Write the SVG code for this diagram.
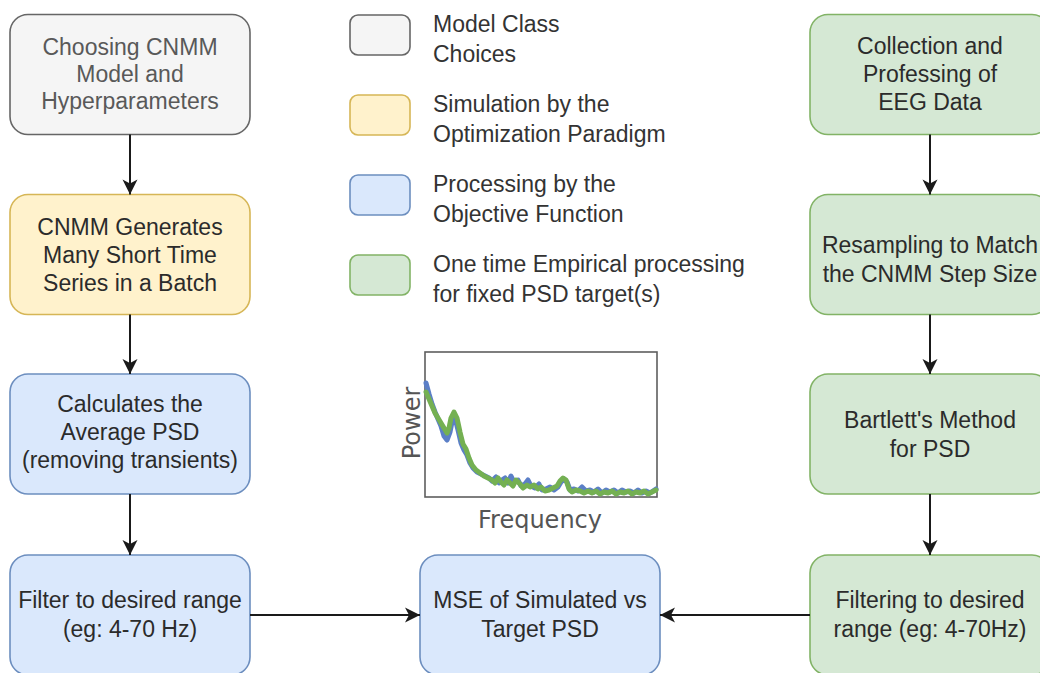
<svg xmlns="http://www.w3.org/2000/svg" width="1040" height="673" viewBox="0 0 1040 673">
  <defs>
    <style>
      .box { stroke-width: 1.6; }
      .gray { fill: #f5f5f5; stroke: #666666; }
      .yellow { fill: #fff2cc; stroke: #d6b656; }
      .blue { fill: #dae8fc; stroke: #6c8ebf; }
      .green { fill: #d5e8d4; stroke: #82b366; }
      .lbl { font-family: "Liberation Sans", Arial, sans-serif; font-size: 23px; fill: #2b2b2b; text-anchor: middle; }
      .lbl.muted { fill: #595959; }
      .legend { font-family: "Liberation Sans", Arial, sans-serif; font-size: 23px; fill: #333333; }
      .axis { font-family: "DejaVu Sans", sans-serif; font-size: 24px; fill: #555555; text-anchor: middle; }
      .edge { fill: none; stroke: #1a1a1a; stroke-width: 2; }
      .trace { fill: none; stroke-width: 5; stroke-linejoin: round; stroke-linecap: round; }
    </style>
    <marker id="arrow" viewBox="-16 -8 17 16" refX="0" refY="0" markerWidth="17" markerHeight="16" markerUnits="userSpaceOnUse" orient="auto">
      <path d="M0,0 L-15,-7.5 L-11,0 L-15,7.5 Z" fill="#1a1a1a"/>
    </marker>
  </defs>

  <rect width="1040" height="673" fill="#ffffff"/>

  <!-- simulation column -->
  <g id="choose-model">
    <rect class="box gray" x="10" y="14.5" width="240" height="120" rx="18"/>
    <text class="lbl muted" x="130" y="55">Choosing CNMM</text>
    <text class="lbl muted" x="130" y="82">Model and</text>
    <text class="lbl muted" x="130" y="109">Hyperparameters</text>
  </g>
  <g id="generate-series">
    <rect class="box yellow" x="10" y="194.5" width="240" height="120" rx="18"/>
    <text class="lbl" x="130" y="235">CNMM Generates</text>
    <text class="lbl" x="130" y="263">Many Short Time</text>
    <text class="lbl" x="130" y="291">Series in a Batch</text>
  </g>
  <g id="average-psd">
    <rect class="box blue" x="10" y="374" width="240" height="120" rx="18"/>
    <text class="lbl" x="130" y="412">Calculates the</text>
    <text class="lbl" x="130" y="440">Average PSD</text>
    <text class="lbl" x="130" y="468">(removing transients)</text>
  </g>
  <g id="filter-sim">
    <rect class="box blue" x="10" y="555" width="240" height="120" rx="18"/>
    <text class="lbl" x="130" y="608">Filter to desired range</text>
    <text class="lbl" x="130" y="637">(eg: 4-70 Hz)</text>
  </g>

  <!-- comparison -->
  <g id="mse">
    <rect class="box blue" x="420" y="555" width="240" height="120" rx="18"/>
    <text class="lbl" x="540" y="608">MSE of Simulated vs</text>
    <text class="lbl" x="540" y="637">Target PSD</text>
  </g>

  <!-- empirical column -->
  <g id="eeg-collection">
    <rect class="box green" x="810" y="14.5" width="240" height="120" rx="18"/>
    <text class="lbl" x="930" y="54">Collection and</text>
    <text class="lbl" x="930" y="82">Professing of</text>
    <text class="lbl" x="930" y="110">EEG Data</text>
  </g>
  <g id="resample">
    <rect class="box green" x="810" y="194.5" width="240" height="120" rx="18"/>
    <text class="lbl" x="930" y="253">Resampling to Match</text>
    <text class="lbl" x="930" y="282">the CNMM Step Size</text>
  </g>
  <g id="bartlett">
    <rect class="box green" x="810" y="374" width="240" height="120" rx="18"/>
    <text class="lbl" x="930" y="428">Bartlett's Method</text>
    <text class="lbl" x="930" y="457">for PSD</text>
  </g>
  <g id="filter-eeg">
    <rect class="box green" x="810" y="555" width="240" height="120" rx="18"/>
    <text class="lbl" x="930" y="608">Filtering to desired</text>
    <text class="lbl" x="930" y="637">range (eg: 4-70Hz)</text>
  </g>

  <!-- legend -->
  <g id="legend">
    <rect class="box gray" x="350" y="15" width="60" height="40" rx="8"/>
    <text class="legend" x="433" y="32">Model Class</text>
    <text class="legend" x="433" y="62">Choices</text>
    <rect class="box yellow" x="350" y="95" width="60" height="40" rx="8"/>
    <text class="legend" x="433" y="112">Simulation by the</text>
    <text class="legend" x="433" y="142">Optimization Paradigm</text>
    <rect class="box blue" x="350" y="175" width="60" height="40" rx="8"/>
    <text class="legend" x="433" y="192">Processing by the</text>
    <text class="legend" x="433" y="222">Objective Function</text>
    <rect class="box green" x="350" y="255" width="60" height="40" rx="8"/>
    <text class="legend" x="433" y="272">One time Empirical processing</text>
    <text class="legend" x="433" y="302">for fixed PSD target(s)</text>
  </g>

  <!-- PSD illustration -->
  <g id="psd-plot">
    <rect x="425" y="352" width="232" height="145" fill="#ffffff" stroke="#5e5e5e" stroke-width="1.6"/>
    <polyline class="trace" stroke="#5b7fc7" points="426,383 429,394 432,404 435,412 438,419 441,426 444,436 447,440 450,432 452,422 455,418 458,430 461,443 464,450 467,455 470,463 473,468 477,472 481,474 485,476 489,478 492,481 496,477 499,483 502,480 505,478 508,483 511,476 514,482 518,480 521,486 525,484 528,480 531,486 535,488 539,484 542,490 546,489 550,487 554,490 558,487 561,482 564,479 567,482 570,490 574,489 578,491 582,487 586,491 590,490 594,492 598,489 602,493 606,490 610,492 614,490 618,493 622,490 626,492 630,491 634,493 638,490 642,493 646,491 650,493 656,489"/>
    <polyline class="trace" stroke="#74b052" points="426,392 429,399 432,406 435,413 438,418 441,423 444,428 447,433 449,428 451,418 454,412 457,418 460,432 463,444 466,449 469,458 472,465 476,470 480,473 484,476 488,478 492,480 495,483 498,478 501,482 504,485 507,480 510,483 513,486 516,480 520,484 523,488 527,485 530,487 534,485 538,489 541,487 545,491 549,490 553,488 557,486 560,481 563,478 566,480 569,489 572,492 576,490 580,491 584,493 588,491 592,493 596,491 600,494 604,492 608,493 612,491 616,494 620,492 624,493 628,491 632,494 636,492 640,493 644,491 648,494 656,490"/>
    <text class="axis" transform="translate(420,423) rotate(-90)">Power</text>
    <text class="axis" x="540" y="528">Frequency</text>
  </g>

  <!-- connectors -->
  <g id="connectors">
    <line class="edge" x1="130" y1="134.5" x2="130" y2="194.5" marker-end="url(#arrow)"/>
    <line class="edge" x1="130" y1="314.5" x2="130" y2="374" marker-end="url(#arrow)"/>
    <line class="edge" x1="130" y1="494" x2="130" y2="555" marker-end="url(#arrow)"/>
    <line class="edge" x1="930" y1="134.5" x2="930" y2="194.5" marker-end="url(#arrow)"/>
    <line class="edge" x1="930" y1="314.5" x2="930" y2="374" marker-end="url(#arrow)"/>
    <line class="edge" x1="930" y1="494" x2="930" y2="555" marker-end="url(#arrow)"/>
    <line class="edge" x1="250" y1="615" x2="420" y2="615" marker-end="url(#arrow)"/>
    <line class="edge" x1="810" y1="615" x2="660" y2="615" marker-end="url(#arrow)"/>
  </g>
</svg>
